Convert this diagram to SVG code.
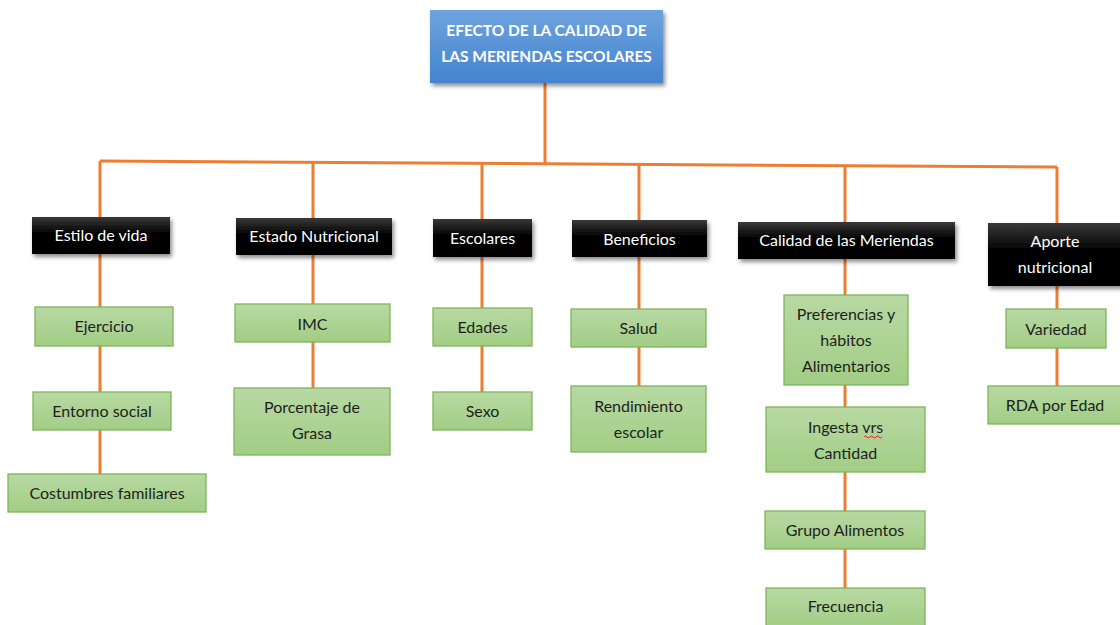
<svg xmlns="http://www.w3.org/2000/svg" width="1120" height="625" viewBox="0 0 1120 625">
<defs>
<linearGradient id="gBlue" x1="0" y1="0" x2="0" y2="1"><stop offset="0" stop-color="#6ea3de"/><stop offset="1" stop-color="#4484cf"/></linearGradient>
<linearGradient id="gBlack" x1="0" y1="0" x2="0" y2="1"><stop offset="0" stop-color="#3a3a3a"/><stop offset="0.45" stop-color="#000"/><stop offset="1" stop-color="#000"/></linearGradient>
<linearGradient id="gGreen" x1="0" y1="0" x2="0" y2="1"><stop offset="0" stop-color="#b8d9a3"/><stop offset="1" stop-color="#a2cd85"/></linearGradient>
<filter id="sh" x="-10%" y="-20%" width="130%" height="160%"><feDropShadow dx="2" dy="3" stdDeviation="2" flood-color="#000" flood-opacity="0.45"/></filter>
<style>
.line{stroke:#ed7d31;stroke-width:3;fill:none}
.top{fill:url(#gBlue);filter:url(#sh)}
.blk{fill:url(#gBlack);filter:url(#sh)}
.grn{fill:url(#gGreen);stroke:#7db55a;stroke-width:1.3}
text{font-family:Lato,"Open Sans","Liberation Sans",sans-serif;font-size:16px;text-anchor:middle}
.tt{fill:#fff;font-weight:bold;font-size:15.5px}
.wt{fill:#fff}
.dt{fill:#1e1e1e}
</style>
</defs>
<g id="connectors">
<path class="line" d="M545,83 V163"/>
<path class="line" d="M100,161 L1057,167"/>
<path class="line" d="M100,161 V474"/>
<path class="line" d="M313,162 V388"/>
<path class="line" d="M482,163 V392"/>
<path class="line" d="M639,164 V386"/>
<path class="line" d="M845,165 V588"/>
<path class="line" d="M1057,167 V386"/>
</g>
<g id="root"><rect class="top" x="430" y="10" width="233" height="73"/>
<text class="tt" x="546.5" y="36">EFECTO DE LA CALIDAD DE</text>
<text class="tt" x="546.5" y="62">LAS MERIENDAS ESCOLARES</text></g>
<g id="estilo"><rect class="blk" x="32" y="217" width="138" height="37"/><text class="wt" x="101" y="241">Estilo de vida</text></g>
<g id="estado"><rect class="blk" x="236" y="218" width="156" height="37"/><text class="wt" x="314" y="242">Estado Nutricional</text></g>
<g id="escolares"><rect class="blk" x="433" y="219" width="99" height="38"/><text class="wt" x="482.5" y="244">Escolares</text></g>
<g id="beneficios"><rect class="blk" x="572" y="220" width="135" height="37"/><text class="wt" x="639.5" y="245">Beneficios</text></g>
<g id="calidad"><rect class="blk" x="738" y="222" width="217" height="37"/><text class="wt" x="846.5" y="246">Calidad de las Meriendas</text></g>
<g id="aporte"><rect class="blk" x="988" y="223" width="134" height="63"/><text class="wt" x="1055" y="247">Aporte</text><text class="wt" x="1055" y="273">nutricional</text></g>
<g id="ejercicio"><rect class="grn" x="35" y="307" width="138" height="39"/><text class="dt" x="104" y="332">Ejercicio</text></g>
<g id="entorno"><rect class="grn" x="33" y="392" width="138" height="38"/><text class="dt" x="102" y="417">Entorno social</text></g>
<g id="costumbres"><rect class="grn" x="8" y="474" width="198" height="38"/><text class="dt" x="107" y="499">Costumbres familiares</text></g>
<g id="imc"><rect class="grn" x="235" y="304" width="155" height="38"/><text class="dt" x="312.5" y="330">IMC</text></g>
<g id="grasa"><rect class="grn" x="234" y="388" width="156" height="67"/><text class="dt" x="312" y="413">Porcentaje de</text><text class="dt" x="312" y="439">Grasa</text></g>
<g id="edades"><rect class="grn" x="433" y="308" width="99" height="38"/><text class="dt" x="482.5" y="333">Edades</text></g>
<g id="sexo"><rect class="grn" x="433" y="392" width="99" height="38"/><text class="dt" x="482.5" y="417">Sexo</text></g>
<g id="salud"><rect class="grn" x="571" y="309" width="135" height="38"/><text class="dt" x="638.5" y="334">Salud</text></g>
<g id="rendimiento"><rect class="grn" x="571" y="386" width="135" height="66"/><text class="dt" x="638.5" y="412">Rendimiento</text><text class="dt" x="638.5" y="438">escolar</text></g>
<g id="preferencias"><rect class="grn" x="784" y="295" width="124" height="90"/><text class="dt" x="846" y="320">Preferencias y</text><text class="dt" x="846" y="346">hábitos</text><text class="dt" x="846" y="372">Alimentarios</text></g>
<g id="ingesta"><rect class="grn" x="766" y="407" width="159" height="65"/><text class="dt" x="845.5" y="433">Ingesta vrs</text><text class="dt" x="845.5" y="459">Cantidad</text>
<path d="M864,437 q1.5,-2 3,0 t3,0 t3,0 t3,0 t3,0 t3,0" stroke="#e02020" stroke-width="1" fill="none"/></g>
<g id="grupo"><rect class="grn" x="765" y="511" width="160" height="38"/><text class="dt" x="845" y="536">Grupo Alimentos</text></g>
<g id="frecuencia"><rect class="grn" x="766" y="588" width="159" height="40"/><text class="dt" x="845.5" y="612">Frecuencia</text></g>
<g id="variedad"><rect class="grn" x="1006" y="309" width="100" height="39"/><text class="dt" x="1056" y="335">Variedad</text></g>
<g id="rda"><rect class="grn" x="988" y="386" width="134" height="38"/><text class="dt" x="1055" y="411">RDA por Edad</text></g>
</svg>
